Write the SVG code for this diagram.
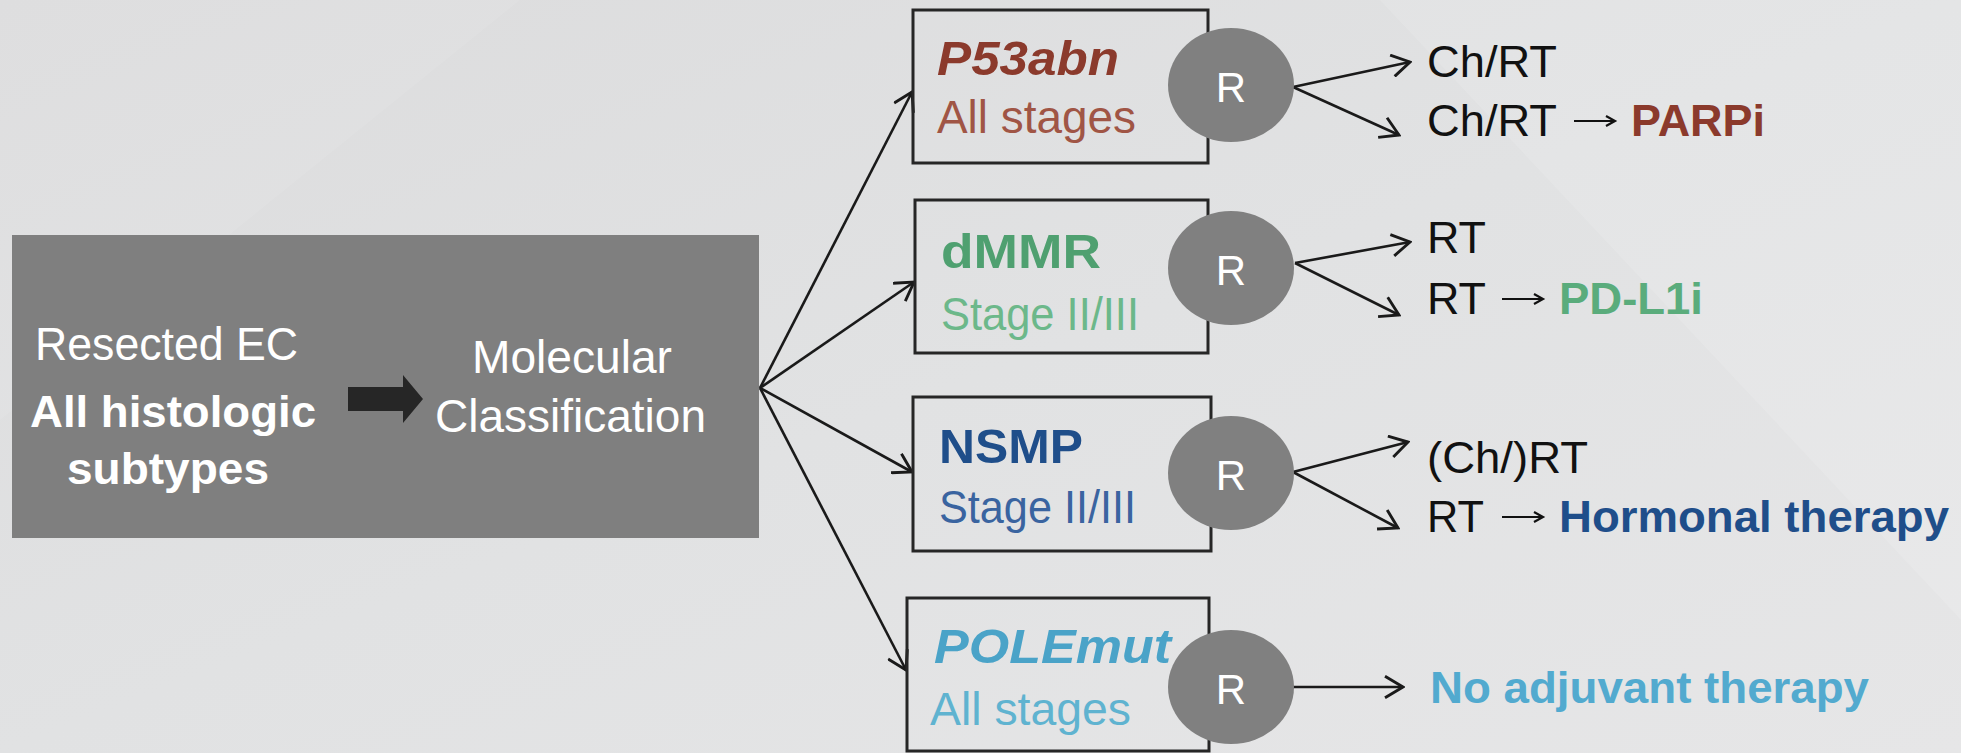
<svg xmlns="http://www.w3.org/2000/svg" width="1961" height="753" viewBox="0 0 1961 753">
<defs>
<linearGradient id="bg" x1="0" y1="0" x2="1" y2="1">
<stop offset="0" stop-color="#dcdcdd"/>
<stop offset="0.5" stop-color="#e1e2e3"/>
<stop offset="1" stop-color="#e6e6e7"/>
</linearGradient>
<marker id="ah" viewBox="0 0 20 20" refX="18" refY="10" markerWidth="24" markerHeight="24" markerUnits="userSpaceOnUse" orient="auto">
<path d="M3,1 L18,10 L3,19" fill="none" stroke="#1a1a1a" stroke-width="2.4" stroke-linejoin="miter"/>
</marker>
<style>
text{font-family:"Liberation Sans",Arial,sans-serif;}
.w{fill:#ffffff;font-size:46px;}
.wb{fill:#ffffff;font-size:45px;font-weight:bold;}
.box{fill:none;stroke:#262626;stroke-width:3;}
.circ{fill:#808080;}
.r{fill:#ffffff;font-size:42px;text-anchor:middle;}
.h{font-size:48px;font-weight:bold;}
.hi{font-size:48px;font-weight:bold;font-style:italic;}
.s{font-size:46px;}
.t{font-size:45px;fill:#111111;}
.tb{font-size:45px;font-weight:bold;}
.arr{stroke:#111111;stroke-width:2.2;fill:none;}
.con{stroke:#1a1a1a;stroke-width:2.6;fill:none;marker-end:url(#ah);}
</style>
</defs>
<rect x="0" y="0" width="1961" height="753" fill="url(#bg)"/>
<polygon points="0,0 520,0 0,420" fill="#ffffff" opacity="0.08"/>
<polygon points="1380,0 1961,0 1961,620" fill="#ffffff" opacity="0.12"/>

<g id="start">
<rect x="12" y="235" width="747" height="303" fill="#7f7f7f"/>
<text class="w" x="35" y="360" textLength="263" lengthAdjust="spacingAndGlyphs">Resected EC</text>
<text class="wb" x="30" y="427" textLength="286" lengthAdjust="spacingAndGlyphs">All histologic</text>
<text class="wb" x="67" y="484" textLength="202" lengthAdjust="spacingAndGlyphs">subtypes</text>
<polygon points="348,387 403,387 403,375 423,399 403,423 403,411 348,411" fill="#262626"/>
<text class="w" x="472" y="373" textLength="200" lengthAdjust="spacingAndGlyphs">Molecular</text>
<text class="w" x="435" y="432" textLength="271" lengthAdjust="spacingAndGlyphs">Classification</text>
</g>

<g id="connectors">
<line class="con" x1="760" y1="388" x2="912" y2="92"/>
<line class="con" x1="760" y1="388" x2="914" y2="282"/>
<line class="con" x1="760" y1="388" x2="912" y2="472"/>
<line class="con" x1="760" y1="388" x2="906" y2="670"/>
<line class="con" x1="1293" y1="87" x2="1410" y2="62"/>
<line class="con" x1="1293" y1="87" x2="1399" y2="135"/>
<line class="con" x1="1295" y1="263" x2="1410" y2="242"/>
<line class="con" x1="1295" y1="263" x2="1399" y2="315"/>
<line class="con" x1="1293" y1="472" x2="1408" y2="442"/>
<line class="con" x1="1293" y1="472" x2="1398" y2="528"/>
<line class="con" x1="1293" y1="687" x2="1403" y2="687"/>
</g>

<g id="p53abn">
<rect class="box" x="913" y="10" width="295" height="153"/>
<text class="hi" x="937" y="75" fill="#8b3a2c" textLength="182" lengthAdjust="spacingAndGlyphs">P53abn</text>
<text class="s" x="937" y="133" fill="#a05545" textLength="199" lengthAdjust="spacingAndGlyphs">All stages</text>
<ellipse class="circ" cx="1231" cy="85" rx="63" ry="57"/>
<text class="r" x="1231" y="102">R</text>
</g>

<g id="dmmr">
<rect class="box" x="915" y="200" width="293" height="153"/>
<text class="h" x="941" y="268" fill="#4fa070" textLength="160" lengthAdjust="spacingAndGlyphs">dMMR</text>
<text class="s" x="941" y="330" fill="#6cb88a" textLength="198" lengthAdjust="spacingAndGlyphs">Stage II/III</text>
<ellipse class="circ" cx="1231" cy="268" rx="63" ry="57"/>
<text class="r" x="1231" y="285">R</text>
</g>

<g id="nsmp">
<rect class="box" x="913" y="397" width="298" height="154"/>
<text class="h" x="939" y="463" fill="#1f4e8a" textLength="144" lengthAdjust="spacingAndGlyphs">NSMP</text>
<text class="s" x="939" y="523" fill="#3a64a0" textLength="197" lengthAdjust="spacingAndGlyphs">Stage II/III</text>
<ellipse class="circ" cx="1231" cy="473" rx="63" ry="57"/>
<text class="r" x="1231" y="490">R</text>
</g>

<g id="polemut">
<rect class="box" x="907" y="598" width="302" height="153"/>
<text class="hi" x="934" y="663" fill="#4aa3c8" textLength="237" lengthAdjust="spacingAndGlyphs">POLEmut</text>
<text class="s" x="930" y="725" fill="#5fb3d0" textLength="201" lengthAdjust="spacingAndGlyphs">All stages</text>
<ellipse class="circ" cx="1231" cy="687" rx="63" ry="57"/>
<text class="r" x="1231" y="704">R</text>
</g>

<g id="out-p53">
<text class="t" x="1427" y="77" textLength="130" lengthAdjust="spacingAndGlyphs">Ch/RT</text>
<text class="t" x="1427" y="136" textLength="130" lengthAdjust="spacingAndGlyphs">Ch/RT</text>
<path class="arr" d="M1574,121 H1615 M1606,116 L1615,121 L1606,126"/>
<text class="tb" x="1631" y="136" fill="#8b3a2c" textLength="134" lengthAdjust="spacingAndGlyphs">PARPi</text>
</g>

<g id="out-dmmr">
<text class="t" x="1427" y="253" textLength="59" lengthAdjust="spacingAndGlyphs">RT</text>
<text class="t" x="1427" y="314" textLength="59" lengthAdjust="spacingAndGlyphs">RT</text>
<path class="arr" d="M1502,299 H1543 M1534,294 L1543,299 L1534,304"/>
<text class="tb" x="1559" y="314" fill="#5aac7c" textLength="144" lengthAdjust="spacingAndGlyphs">PD-L1i</text>
</g>

<g id="out-nsmp">
<text class="t" x="1427" y="473" textLength="161" lengthAdjust="spacingAndGlyphs">(Ch/)RT</text>
<text class="t" x="1427" y="532" textLength="57" lengthAdjust="spacingAndGlyphs">RT</text>
<path class="arr" d="M1502,517 H1543 M1534,512 L1543,517 L1534,522"/>
<text class="tb" x="1559" y="532" fill="#1f4e8a" textLength="390" lengthAdjust="spacingAndGlyphs">Hormonal therapy</text>
</g>

<g id="out-pole">
<text class="tb" x="1430" y="703" fill="#52aacf" textLength="439" lengthAdjust="spacingAndGlyphs">No adjuvant therapy</text>
</g>
</svg>
